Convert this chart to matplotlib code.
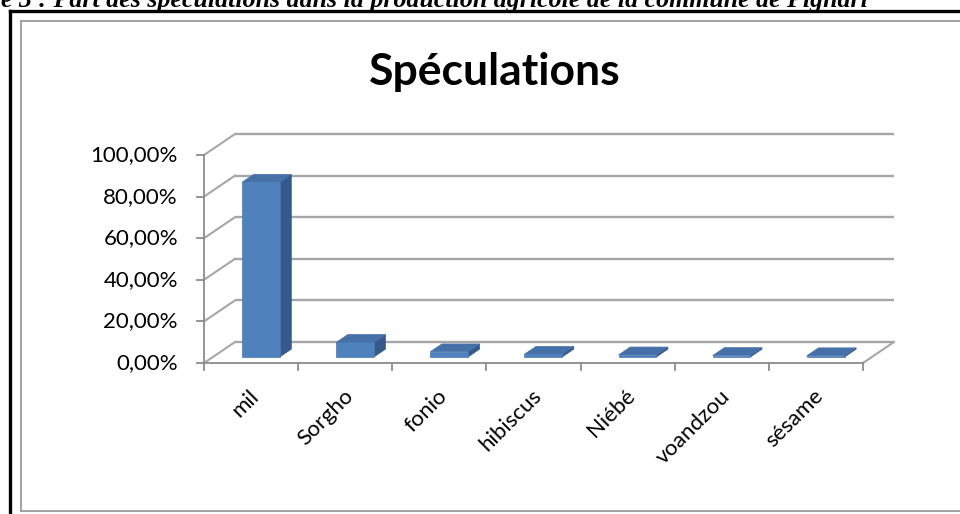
import matplotlib
matplotlib.use("Agg")
import matplotlib.pyplot as plt
from matplotlib.patches import Polygon
from matplotlib.lines import Line2D

# Données : part de chaque spéculation (%)
categories = ["mil", "Sorgho", "fonio", "hibiscus", "Niébé", "voandzou", "sésame"]
parts = [84.0, 7.0, 2.5, 1.3, 1.0, 0.7, 0.6]
graduations = [0, 20, 40, 60, 80, 100]
etiquettes_y = ["0,00%", "20,00%", "40,00%", "60,00%", "80,00%", "100,00%"]

titre = "Spéculations"
legende_figure = "Figure 3 : Part des spéculations dans la production agricole de la commune de Pignari"

W, H = 960, 514
fig = plt.figure(figsize=(W / 100, H / 100), dpi=100)
fig.patch.set_facecolor("white")

# Axe plein cadre : 1 unité x = une catégorie, 1 unité y = 1 %
px_x = 94.14        # pixels par catégorie
px_y = 2.08         # pixels par %
x_org, y_org = 204, 363
ax = fig.add_axes([0, 0, 1, 1])
ax.set_xlim(-x_org / px_x, (W - x_org) / px_x)
ax.set_ylim(-(H - y_org) / px_y, y_org / px_y)
ax.axis("off")

# Profondeur de la vue 3D (oblique)
DX, DY = 31 / px_x, 21 / px_y
n = len(categories)
gris = "#a6a6a6"
gris_axe = "#8c8c8c"

# Mur du fond : quadrillage horizontal
for v in graduations:
    ax.plot([DX, n + DX], [v + DY, v + DY], color=gris, lw=1.7, zorder=1,
            solid_capstyle="butt")
    # mur gauche : lignes obliques
    ax.plot([0, DX], [v, v + DY], color=gris, lw=1.5, zorder=1)

# Plancher : bord droit oblique
ax.plot([n, n + DX], [0, DY], color=gris, lw=1.5, zorder=1)

# Axes avant
ax.plot([0, 0], [0, graduations[-1]], color=gris_axe, lw=1.3, zorder=2)
ax.plot([0, n], [0, 0], color=gris_axe, lw=1.3, zorder=2)
for v in graduations:
    ax.plot([-7 / px_x, 0], [v, v], color=gris_axe, lw=1.3, zorder=2)
for i in range(n + 1):
    ax.plot([i, i], [0, -7 / px_y], color=gris_axe, lw=1.3, zorder=2)

# Barres 3D
d0, d1 = 0.286, 0.66
b0, b1 = 0.31, 0.71


def pt(x, y, d):
    return (x + d * DX, y + d * DY)


for i, v in enumerate(parts):
    x0, x1 = i + b0, i + b1
    face = [pt(x0, 0, d0), pt(x1, 0, d0), pt(x1, v, d0), pt(x0, v, d0)]
    cote = [pt(x1, 0, d0), pt(x1, 0, d1), pt(x1, v, d1), pt(x1, v, d0)]
    dessus = [pt(x0, v, d0), pt(x1, v, d0), pt(x1, v, d1), pt(x0, v, d1)]
    ax.add_patch(Polygon(cote, closed=True, fc="#35598a", ec="#35598a", lw=0.5, zorder=3))
    ax.add_patch(Polygon(dessus, closed=True, fc="#4570a8", ec="#4570a8", lw=0.5, zorder=3))
    ax.add_patch(Polygon(face, closed=True, fc="#4f81bd", ec="#4a7ab3", lw=0.5, zorder=4))

police = "Lato"

# Étiquettes de l'axe des y
for v, lab in zip(graduations, etiquettes_y):
    ax.text(-26 / px_x, v, lab, ha="right", va="center", fontsize=16,
            family=police, color="black")

# Étiquettes des catégories, inclinées à 45°
for i, lab in enumerate(categories):
    ax.text(i + 0.55, -30 / px_y, lab, ha="right", va="center", rotation=45,
            rotation_mode="anchor", fontsize=16, family=police, color="black")

# Titre du graphique
ax.text(0.515, 1 - 72 / H, titre, transform=ax.transAxes, ha="center", va="center",
        fontsize=32, fontweight="bold", family=police, color="black")

# Légende de la figure (coupée en haut)
fig.text(868 / W, 1 - 7 / H, legende_figure, ha="right", va="baseline",
         fontsize=18.6, fontweight="bold", style="italic", family="Liberation Serif")

# Cadres : bordure noire du document et bordure grise du graphique
fig.add_artist(Line2D([10 / W, 1], [1 - 11 / H, 1 - 11 / H], transform=fig.transFigure,
                      color="black", lw=2.4))
fig.add_artist(Line2D([10 / W, 10 / W], [0, 1 - 11 / H], transform=fig.transFigure,
                      color="black", lw=2.4))
fig.add_artist(Line2D([21 / W, 1, ], [1 - 21 / H, 1 - 21 / H], transform=fig.transFigure,
                      color="#9c9c9c", lw=1.3))
fig.add_artist(Line2D([21 / W, 21 / W], [3 / H, 1 - 21 / H], transform=fig.transFigure,
                      color="#9c9c9c", lw=1.3))
fig.add_artist(Line2D([21 / W, 1], [3 / H, 3 / H], transform=fig.transFigure,
                      color="#9c9c9c", lw=1.3))

fig.savefig("out.png", dpi=100, facecolor="white")
